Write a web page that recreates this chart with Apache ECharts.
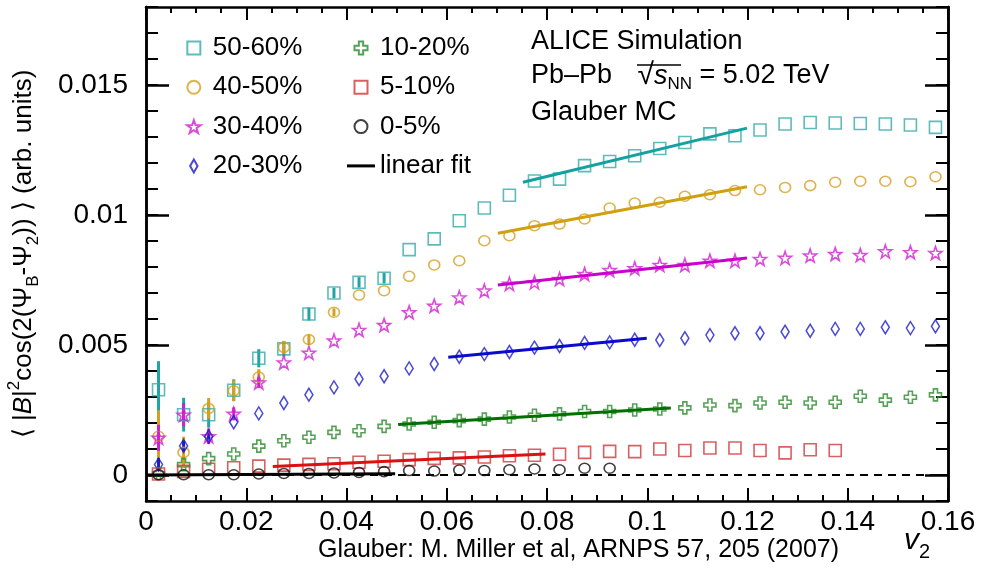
<!DOCTYPE html>
<html>
<head>
<meta charset="utf-8">
<title>B-field vs v2</title>
<script src="https://cdn.jsdelivr.net/npm/echarts@6/dist/echarts.min.js"></script>
<style>
	html, body { margin: 0; padding: 0; background: #fff; }
	#chart { width: 981px; height: 579px; }
</style>
</head>
<body>
<div id="chart"></div>
<script>
// v2 bin centres
var v2 = [0.0025, 0.0075, 0.0125, 0.0175, 0.0225, 0.0275, 0.0325, 0.0375,
	0.0425, 0.0475, 0.0525, 0.0575, 0.0625, 0.0675, 0.0725, 0.0775,
	0.0825, 0.0875, 0.0925, 0.0975, 0.1025, 0.1075, 0.1125, 0.1175,
	0.1225, 0.1275, 0.1325, 0.1375, 0.1425, 0.1475, 0.1525, 0.1575];

var c5060 = [0.00328, 0.00232, 0.00232, 0.00326, 0.00449, 0.00485, 0.00619, 0.00700,
	0.00741, 0.00757, 0.00867, 0.00908, 0.00978, 0.01027, 0.01076, 0.01131,
	0.01138, 0.01190, 0.01206, 0.01228, 0.01256, 0.01279, 0.01312, 0.01305,
	0.01327, 0.01350, 0.01356, 0.01354, 0.01352, 0.01350, 0.01346, 0.01337];
var c4050 = [0.00149, 0.00087, 0.00256, 0.00324, 0.00377, 0.00491, 0.00521, 0.00626,
	0.00692, 0.00709, 0.00764, 0.00808, 0.00824, 0.00901, 0.00920, 0.00959,
	0.00965, 0.00985, 0.01027, 0.01046, 0.01049, 0.01072, 0.01078, 0.01094,
	0.01097, 0.01106, 0.01113, 0.01126, 0.01130, 0.01130, 0.01128, 0.01147];
var c3040 = [0.00143, 0.00232, 0.00149, 0.00235, 0.00356, 0.00433, 0.00470, 0.00517,
	0.00558, 0.00577, 0.00626, 0.00651, 0.00683, 0.00709, 0.00735, 0.00741,
	0.00754, 0.00773, 0.00788, 0.00795, 0.00808, 0.00808, 0.00824, 0.00824,
	0.00831, 0.00835, 0.00844, 0.00850, 0.00846, 0.00860, 0.00857, 0.00854];
var c2030 = [0.00040, 0.00112, 0.00148, 0.00203, 0.00237, 0.00277, 0.00309, 0.00337,
	0.00369, 0.00380, 0.00410, 0.00427, 0.00455, 0.00465, 0.00473, 0.00490,
	0.00496, 0.00508, 0.00510, 0.00520, 0.00519, 0.00526, 0.00538, 0.00545,
	0.00545, 0.00551, 0.00555, 0.00562, 0.00562, 0.00568, 0.00565, 0.00572];
var c1020 = [0.00006, 0.00040, 0.00063, 0.00081, 0.00111, 0.00132, 0.00145, 0.00164,
	0.00170, 0.00187, 0.00196, 0.00203, 0.00209, 0.00215, 0.00223, 0.00230,
	0.00235, 0.00244, 0.00244, 0.00250, 0.00254, 0.00258, 0.00269, 0.00267,
	0.00277, 0.00280, 0.00277, 0.00280, 0.00303, 0.00288, 0.00299, 0.00308];
var c0510 = [0.00004, 0.00014, 0.00022, 0.00028, 0.00034, 0.00038, 0.00041, 0.00043,
	0.00049, 0.00053, 0.00059, 0.00064, 0.00066, 0.00069, 0.00074, 0.00076,
	0.00080, 0.00087, 0.00091, 0.00090, 0.00100, 0.00094, 0.00104, 0.00104,
	0.00094, 0.00085, 0.00097, 0.00094];
var c0005 = [0.00001, 0.00001, 0.00001, 0.00001, 0.00004, 0.00006, 0.00006, 0.00008,
	0.00010, 0.00013, 0.00017, 0.00015, 0.00019, 0.00017, 0.00020, 0.00023,
	0.00020, 0.00026, 0.00026];

// statistical errors (half width), only the visible ones at low v2
var err5060 = [0.0011, 0.00065, 0.0005, 0.00042, 0.00035, 0.0003, 0.00025, 0.0002, 0.0002, 0.0002];
var err4050 = [0.001, 0.0006, 0.0004, 0.0004, 0.0003, 0.00025, 0.0002, 0.00015];
var err3040 = [0.0005, 0.00045, 0.0003, 0.00025, 0.0002];
var err2030 = [0.00025, 0.0002, 0.00015];

// linear fits, [v2, value] end points
var fit5060 = [[0.0752, 0.01126], [0.1199, 0.01334]];
var fit4050 = [[0.0702, 0.00930], [0.1199, 0.01109]];
var fit3040 = [[0.0702, 0.00731], [0.1199, 0.00835]];
var fit2030 = [[0.0603, 0.00453], [0.0999, 0.00526]];
var fit1020 = [[0.0503, 0.00194], [0.1047, 0.00258]];
var fit0510 = [[0.0253, 0.00033], [0.0797, 0.00081]];
var fit0005 = [[0.0, 0.0], [0.0497, 0.00005]];
var zeroLine = [[0, 0], [0.16, 0]];

var yMajor = [0, 0.005, 0.01, 0.015];

var FONT = '"Liberation Sans", Arial, Helvetica, sans-serif';

var SQUARE = 'path://M0,0L10,0L10,10L0,10Z';
var DIAMOND = 'path://M4,0L8,7L4,14L0,7Z';
var STAR = 'path://M0,-10L2.35,-3.24L9.51,-3.09L3.8,1.24L5.88,8.09L0,4L-5.88,8.09L-3.8,1.24L-9.51,-3.09L-2.35,-3.24Z';
var CROSS = 'path://M-1,-3L1,-3L1,-1L3,-1L3,1L1,1L1,3L-1,3L-1,1L-3,1L-3,-1L-1,-1Z';
var BAR = 'path://M0,0L28,0L28,3L0,3Z';

function pairs(vals) {
	var out = [];
	for (var i = 0; i < vals.length; i++) {
		out.push([v2[i], vals[i]]);
	}
	return out;
}

function points(name, vals, symbol, size, color) {
	return {
		type: 'scatter', name: name, data: pairs(vals),
		symbol: symbol, symbolSize: size, z: 3,
		itemStyle: { color: 'rgba(0,0,0,0)', borderColor: color, borderWidth: 1.6 },
		emphasis: { disabled: true }
	};
}

function errBars(name, vals, err, color) {
	var data = [];
	for (var i = 0; i < err.length; i++) {
		data.push([v2[i], vals[i], err[i]]);
	}
	return {
		type: 'custom', name: name, data: data, z: 2,
		encode: { x: 0, y: 1 },
		renderItem: function(params, api) {
			var x = api.value(0), y = api.value(1), e = api.value(2);
			var p1 = api.coord([x, y + e]);
			var p2 = api.coord([x, y - e]);
			return {
				type: 'line',
				shape: { x1: p1[0], y1: p1[1], x2: p2[0], y2: p2[1] },
				style: { stroke: color, lineWidth: 3 }
			};
		}
	};
}

function fitLine(name, data, color) {
	return {
		type: 'line', name: name, data: data, symbol: 'none', z: 4,
		lineStyle: { color: color, width: 3 }, itemStyle: { color: color },
		emphasis: { disabled: true }
	};
}

function frameX(show) {
	return {
		type: 'value', min: 0, max: 0.16, interval: 0.02,
		position: show ? 'bottom' : 'top',
		axisLine: { show: true, onZero: false, lineStyle: { color: '#000', width: 2.5 } },
		axisTick: { inside: true, length: 13, lineStyle: { color: '#000', width: 2 } },
		minorTick: { show: true, splitNumber: 4, length: 6, lineStyle: { color: '#000', width: 2 } },
		splitLine: { show: false },
		axisLabel: {
			show: show, margin: 7, color: '#000', fontFamily: FONT, fontSize: 28,
			formatter: function(v) { return String(+v.toFixed(3)); }
		}
	};
}

function frameY(pos, major, show) {
	var ax = {
		type: 'value', min: -0.001, max: 0.018, position: pos,
		axisLine: { show: true, onZero: false, lineStyle: { color: '#000', width: 2.5 } },
		splitLine: { show: false },
		axisLabel: { show: false }
	};
	if (major) {
		ax.axisTick = { inside: true, length: 23, customValues: yMajor, lineStyle: { color: '#000', width: 2.5 } };
		ax.axisLabel = {
			show: show, customValues: yMajor, margin: 18, color: '#000',
			fontFamily: FONT, fontSize: 28,
			formatter: function(v) { return String(+v.toFixed(4)); }
		};
	} else {
		ax.interval = 0.001;
		ax.axisTick = { inside: true, length: 12, lineStyle: { color: '#000', width: 2 } };
	}
	return ax;
}

var yTitle = {
	type: 'value', min: -0.001, max: 0.018, position: 'left', show: true,
	axisLine: { show: false }, axisTick: { show: false }, axisLabel: { show: false },
	splitLine: { show: false },
	name: '{n|⟨ |}{i|B}{n||}{sup|2}{n|cos(2(Ψ}{sub|B}{n|-Ψ}{sub|2}{n|)) ⟩ (arb. units)}',
	nameLocation: 'middle', nameGap: 104,
	nameTextStyle: {
		color: '#000', fontFamily: FONT, fontSize: 26,
		rich: {
			n: { fontFamily: FONT, fontSize: 26, color: '#000', lineHeight: 36, verticalAlign: 'middle' },
			i: { fontFamily: FONT, fontSize: 26, fontStyle: 'italic', color: '#000', lineHeight: 36, verticalAlign: 'middle' },
			sup: { fontFamily: FONT, fontSize: 17, color: '#000', lineHeight: 36, verticalAlign: 'top' },
			sub: { fontFamily: FONT, fontSize: 17, color: '#000', lineHeight: 36, verticalAlign: 'bottom' }
		}
	}
};

var legendText = { fontFamily: FONT, fontSize: 26, color: '#000', lineHeight: 26 };

var option = {
	animation: false,
	backgroundColor: '#fff',
	grid: { left: 146, right: 33, top: 7, bottom: 78, containLabel: false, outerBoundsMode: 'none' },
	xAxis: [frameX(true), frameX(false)],
	yAxis: [frameY('left', false), frameY('left', true, true), frameY('right', false), frameY('right', true, false), yTitle],
	legend: [{
		orient: 'vertical', left: 186, top: 35, padding: 0, itemGap: 13.3,
		itemWidth: 28, itemHeight: 13, textStyle: legendText, selectedMode: false,
		data: ['50-60%', '40-50%', '30-40%', '20-30%']
	}, {
		orient: 'vertical', left: 347, top: 35, padding: 0, itemGap: 13.3,
		itemWidth: 28, itemHeight: 13, textStyle: legendText, selectedMode: false,
		data: ['10-20%', '5-10%', '0-5%', { name: 'linear fit', icon: BAR }]
	}],
	graphic: [
		{ type: 'text', left: 531, top: 28, style: { text: 'ALICE Simulation', font: '27px ' + FONT, fill: '#000' } },
		{
			type: 'text', left: 531, top: 61,
			style: {
				text: '{n|Pb–Pb }{r|√}{s|s}{b|NN}{n| = 5.02 TeV}', fill: '#000',
				rich: {
					n: { fontFamily: FONT, fontSize: 27, lineHeight: 34, verticalAlign: 'middle' },
					r: { fontFamily: FONT, fontSize: 30, lineHeight: 34, verticalAlign: 'middle', padding: [0, 0, 0, 18] },
					s: { fontFamily: FONT, fontSize: 27, fontStyle: 'italic', lineHeight: 34, verticalAlign: 'middle' },
					b: { fontFamily: FONT, fontSize: 17, lineHeight: 34, verticalAlign: 'bottom' }
				}
			}
		},
		{ type: 'line', shape: { x1: 637, y1: 65, x2: 681, y2: 65 }, style: { stroke: '#000', lineWidth: 1.5 } },
		{ type: 'text', left: 531, top: 99, style: { text: 'Glauber MC', font: '27px ' + FONT, fill: '#000' } },
		{ type: 'text', left: 318, top: 538, style: { text: 'Glauber: M. Miller et al, ARNPS 57, 205 (2007)', font: '25px ' + FONT, fill: '#000' } },
		{
			// x axis title
			type: 'text', left: 904, top: 526,
			style: {
				text: '{v|v}{s|2}', fill: '#000',
				rich: {
					v: { fontFamily: FONT, fontSize: 30, fontStyle: 'italic', lineHeight: 36, verticalAlign: 'top' },
					s: { fontFamily: FONT, fontSize: 20, lineHeight: 36, verticalAlign: 'bottom' }
				}
			}
		}
	],
	series: [
		{
			type: 'line', name: 'zero', data: zeroLine, symbol: 'none', z: 1,
			lineStyle: { color: '#000', width: 2, type: [8, 6] }, emphasis: { disabled: true }
		},
		errBars('err 50-60%', c5060, err5060, '#22a4a4'),
		errBars('err 40-50%', c4050, err4050, '#d4a020'),
		errBars('err 30-40%', c3040, err3040, '#d020d0'),
		errBars('err 20-30%', c2030, err2030, '#1c1cc8'),
		points('50-60%', c5060, SQUARE, 12, '#36aaaa'),
		points('40-50%', c4050, 'circle', [11, 10], '#d4a020'),
		points('30-40%', c3040, STAR, 13, '#d020d0'),
		points('20-30%', c2030, DIAMOND, [8, 13], '#1c1cc8'),
		points('10-20%', c1020, CROSS, 12, '#2a8a2a'),
		points('5-10%', c0510, SQUARE, 12, '#d03838'),
		points('0-5%', c0005, 'circle', [11, 10], '#111'),
		fitLine('fit 50-60%', fit5060, '#16a0a0'),
		fitLine('fit 40-50%', fit4050, '#d0a010'),
		fitLine('fit 30-40%', fit3040, '#cc00cc'),
		fitLine('fit 20-30%', fit2030, '#0a0ad0'),
		fitLine('fit 10-20%', fit1020, '#007000'),
		fitLine('fit 5-10%', fit0510, '#dd1010'),
		fitLine('linear fit', fit0005, '#000')
	]
};

var myChart = echarts.init(document.getElementById('chart'));
myChart.setOption(option);
</script>
</body>
</html>
